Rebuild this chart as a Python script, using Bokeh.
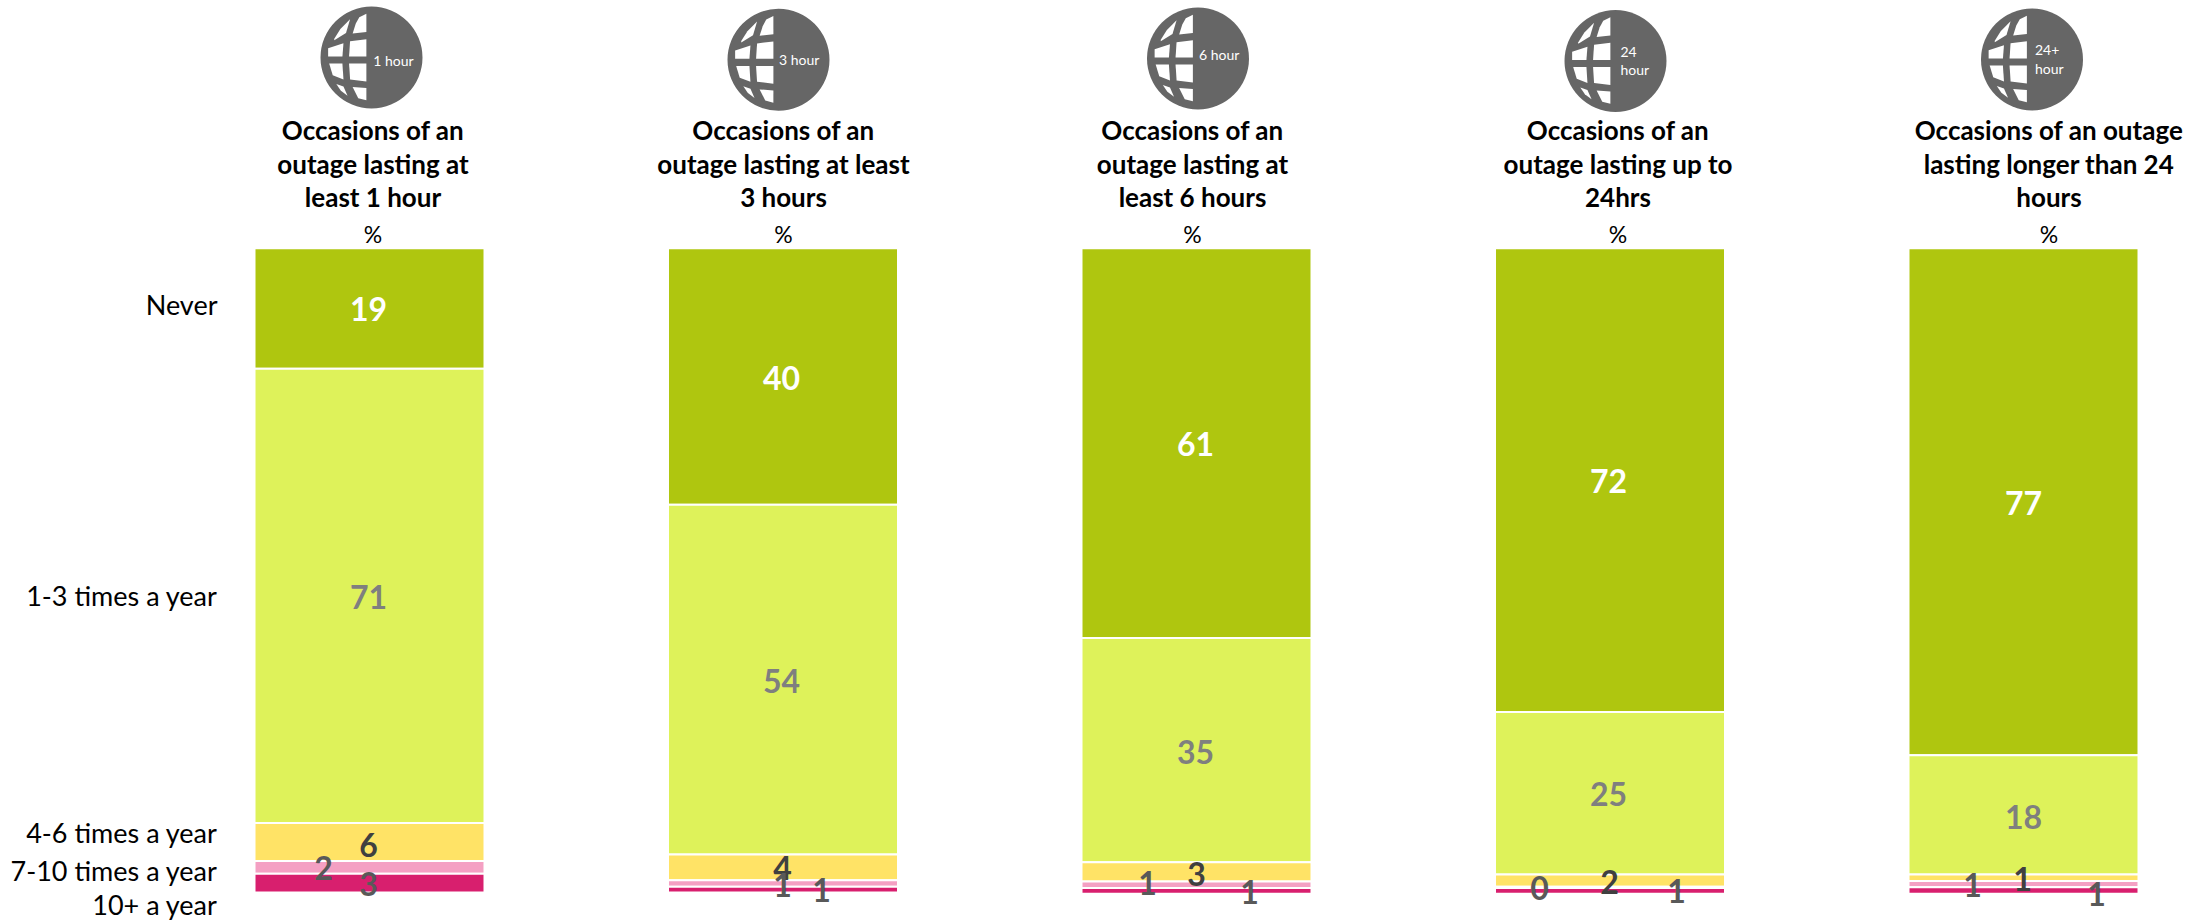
from bokeh.plotting import figure
from bokeh.models import Range1d, ColumnDataSource
from bokeh.core.properties import value
from bokeh.embed import file_html
from bokeh.resources import INLINE

# ---- data ----
categories = ["Never", "1-3 times a year", "4-6 times a year", "7-10 times a year", "10+ a year"]
titles = [
    ["Occasions of an", "outage lasting at", "least 1 hour"],
    ["Occasions of an", "outage lasting at least", "3 hours"],
    ["Occasions of an", "outage lasting at", "least 6 hours"],
    ["Occasions of an", "outage lasting up to", "24hrs"],
    ["Occasions of an outage", "lasting longer than 24", "hours"],
]
icon_texts = [["1 hour"], ["3 hour"], ["6 hour"], ["24", "hour"], ["24+", "hour"]]
never = [18.7, 39.8, 60.5, 72.0, 78.7]
one_three = [70.5, 54.3, 34.8, 25.2, 18.5]
four_six = [5.9, 4.0, 3.0, 1.9, 1.0]
seven_ten = [2.0, 1.0, 1.0, 0.2, 1.0]
ten_plus = [2.9, 0.9, 0.9, 0.9, 1.0]
series = [never, one_three, four_six, seven_ten, ten_plus]
labels = [
    ["19", "71", "6", "2", "3"],
    ["40", "54", "4", "1", "1"],
    ["61", "35", "3", "1", "1"],
    ["72", "25", "2", "0", "1"],
    ["77", "18", "1", "1", "1"],
]

# ---- styles / layout (page pixels of the reference) ----
colors = ["#AFC60F", "#DEF25A", "#FFE366", "#F4A0C3", "#D81F6E"]
label_colors = ["#FFFFFF", "#7F7F7F", "#404040", "#595959", "#595959"]
FONT = "Lato"
W, H = 2212, 920
X0, DX = 369.0, 413.5          # page x of first column, spacing
Y0, SY = 247.7, 6.443          # page y of 0 %, pixels per 1 %
BAR_W = 230.0 / DX

def px(x):  # page px -> x data
    return (x - X0) / DX
def py(y):  # page px -> y data
    return (y - Y0) / SY

label_x = [
    [368, 368, 368, 323, 368],
    [781, 781, 782, 782, 821],
    [1195, 1195, 1196, 1147, 1249],
    [1608, 1608, 1609, 1539, 1676],
    [2023, 2023, 2022, 1972, 2096],
]
label_y = [
    [308, 596, 844, 867, 883],
    [377, 680, 867, 884, 889],
    [443, 751, 873, 882, 891],
    [480, 793, 881, 887, 890],
    [502, 816, 878, 884, 893],
]
cat_y = [304, 595, 832, 870, 904]
cat_right = 217
title_x = [372.5, 783, 1192, 1617.5, 2048.5]
title_y = [129.7, 163, 196]
pct_y = 233
globe_cx = [371, 778, 1197.5, 1615, 2031.5]
globe_cy = [57, 59.3, 58, 60.5, 59]
globe_r = 51
icon_x = [393, 798.7, 1218.7, 1620, 2034.5]
icon_y_one = [60, 58.7, 53.7]
icon_y_two = [[51, 69], [49, 68]]

# window panes of the globe icon, in units of its radius
panes = [
    [(-.73, -.37), (-.61, -.56), (-.42, -.75), (-.50, -.48), (-.73, -.34)],
    [(-.10, -.86), (-.10, -.50), (-.37, -.47), (-.31, -.66), (-.24, -.79)],
    [(-.85, -.18), (-.55, -.28), (-.57, -.02), (-.85, -.02)],
    [(-.10, -.36), (-.10, -.02), (-.44, -.02), (-.42, -.32)],
    [(-.83, .12), (-.57, .12), (-.55, .43), (-.76, .35)],
    [(-.44, .12), (-.10, .12), (-.10, .47), (-.42, .43)],
    [(-.69, .52), (-.55, .57), (-.47, .75), (-.60, .65)],
    [(-.37, .58), (-.10, .60), (-.10, .84), (-.26, .80)],
]

p = figure(width=W, height=H, output_backend="svg", toolbar_location=None,
           x_range=Range1d(px(0), px(W)), y_range=Range1d(py(H), py(0)),
           min_border=0, outline_line_color=None)
p.axis.visible = False
p.grid.visible = False

# stacked bars, from the top downward
xs, tops, bottoms, fills = [], [], [], []
for c in range(5):
    acc = 0.0
    for s in range(5):
        xs.append(c)
        tops.append(acc)
        acc += series[s][c]
        bottoms.append(acc)
        fills.append(colors[s])
p.vbar(x="x", top="t", bottom="b", width=BAR_W, fill_color="c", line_color="#FFFFFF", line_width=2,
       source=ColumnDataSource(dict(x=xs, t=tops, b=bottoms, c=fills)))

# value labels
lx, ly, lt, lc = [], [], [], []
for c in range(5):
    for s in range(5):
        lx.append(px(label_x[c][s]))
        ly.append(py(label_y[c][s]))
        lt.append(labels[c][s])
        lc.append(label_colors[s])
p.text(x="x", y="y", text="t", text_color="c", text_font=value(FONT), text_font_style="bold",
       text_font_size="32px", text_align="center", text_baseline="middle",
       source=ColumnDataSource(dict(x=lx, y=ly, t=lt, c=lc)))

# category labels
p.text(x=[px(cat_right)] * 5, y=[py(v) for v in cat_y], text=categories, text_color="#000000",
       text_font=value(FONT), text_font_size="27px", text_align="right", text_baseline="middle")

# titles and %
for c in range(5):
    p.text(x=[px(title_x[c])] * 3, y=[py(v) for v in title_y], text=titles[c], text_color="#000000",
           text_font=value(FONT), text_font_style="bold", text_font_size="26px",
           text_align="center", text_baseline="middle")
    p.text(x=[px(title_x[c])], y=[py(pct_y)], text=["%"], text_color="#000000",
           text_font=value(FONT), text_font_size="23px", text_align="center", text_baseline="middle")

# globes
p.scatter(x=[px(v) for v in globe_cx], y=[py(v) for v in globe_cy], size=2 * globe_r,
          marker="circle", fill_color="#666666", line_color=None)
pxs, pys = [], []
for c in range(5):
    for pane in panes:
        pxs.append([px(globe_cx[c] + globe_r * a) for a, b in pane])
        pys.append([py(globe_cy[c] + globe_r * b) for a, b in pane])
p.patches(pxs, pys, fill_color="#FFFFFF", line_color=None)
for c in range(5):
    if len(icon_texts[c]) == 1:
        ys = [icon_y_one[c]]
        xa, al = icon_x[c], "center"
    else:
        ys = icon_y_two[c - 3]
        xa, al = icon_x[c], "left"
    p.text(x=[px(xa)] * len(ys), y=[py(v) for v in ys], text=icon_texts[c], text_color="#FFFFFF",
           text_font=value(FONT), text_font_size="14px", text_align=al, text_baseline="middle")

open("out.html", "w").write(file_html(p, INLINE))
